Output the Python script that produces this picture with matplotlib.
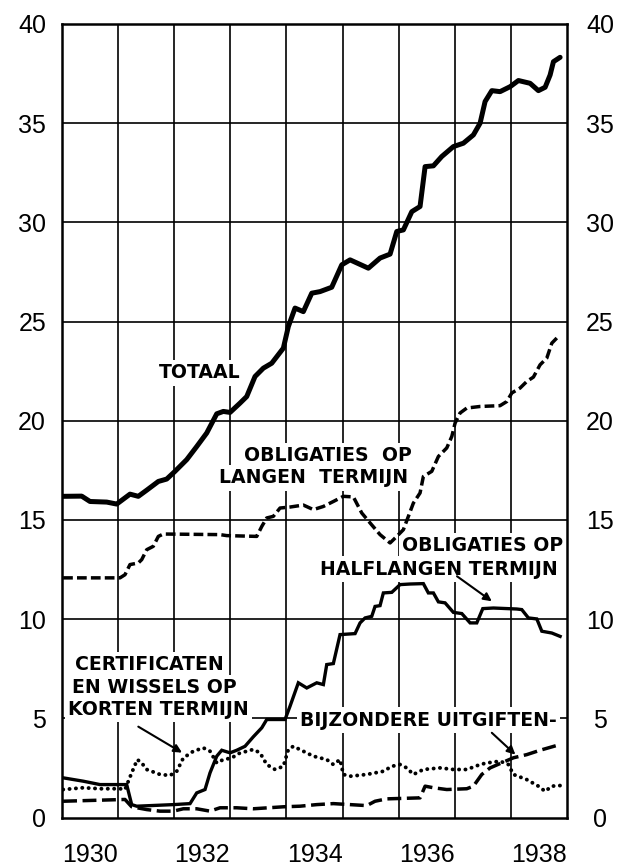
import matplotlib
matplotlib.use("Agg")
import matplotlib.pyplot as plt

plt.rcParams['lines.scale_dashes'] = False

# ---- data (years, billions) ----
totaal_x = [1930.02, 1930.351, 1930.499, 1930.797, 1930.975, 1931.212, 1931.360, 1931.510, 1931.717,
            1931.866, 1932.014, 1932.223, 1932.401, 1932.579, 1932.758, 1932.875, 1932.995, 1933.173,
            1933.292, 1933.440, 1933.588, 1933.738, 1933.945, 1934.034, 1934.153, 1934.301, 1934.451,
            1934.599, 1934.807, 1934.986, 1935.134, 1935.460, 1935.668, 1935.847, 1935.966, 1936.084,
            1936.234, 1936.381, 1936.471, 1936.619, 1936.768, 1936.975, 1937.153, 1937.332, 1937.451,
            1937.540, 1937.660, 1937.807, 1937.986, 1938.134, 1938.342, 1938.490, 1938.610, 1938.699,
            1938.758, 1938.877]
totaal_y = [16.19, 16.2, 15.93, 15.9, 15.8, 16.3, 16.19, 16.5, 16.94,
            17.06, 17.45, 18.04, 18.7, 19.38, 20.35, 20.47, 20.42, 20.89,
            21.22, 22.23, 22.65, 22.9, 23.66, 24.75, 25.68, 25.5, 26.43,
            26.51, 26.73, 27.86, 28.11, 27.69, 28.2, 28.4, 29.54, 29.62,
            30.54, 30.8, 32.81, 32.85, 33.32, 33.82, 33.99, 34.41, 35.0,
            36.09, 36.64, 36.59, 36.84, 37.15, 37.01, 36.64, 36.81, 37.43,
            38.1, 38.32]

langen_x = [1930.02, 1931.034, 1931.123, 1931.212, 1931.360, 1931.421, 1931.510, 1931.627, 1931.717,
            1931.806, 1932.816, 1932.936, 1933.471, 1933.560, 1933.649, 1933.766, 1933.886, 1934.064,
            1934.301, 1934.480, 1934.658, 1934.836, 1935.014, 1935.193, 1935.342, 1935.490, 1935.668,
            1935.847, 1935.966, 1936.084, 1936.173, 1936.262, 1936.381, 1936.440, 1936.590, 1936.708,
            1936.857, 1936.947, 1937.005, 1937.094, 1937.214, 1937.451, 1937.807, 1937.927, 1938.016,
            1938.164, 1938.283, 1938.401, 1938.520, 1938.640, 1938.729, 1938.818]
langen_y = [12.08, 12.08, 12.24, 12.75, 12.83, 13.0, 13.5, 13.67, 14.17,
            14.29, 14.26, 14.21, 14.17, 14.67, 15.1, 15.18, 15.6, 15.65,
            15.75, 15.52, 15.68, 15.93, 16.19, 16.16, 15.35, 14.85, 14.26,
            13.84, 14.17, 14.51, 15.18, 15.85, 16.36, 17.19, 17.45, 18.2,
            18.63, 19.21, 19.88, 20.39, 20.64, 20.72, 20.76, 20.97, 21.4,
            21.65, 21.98, 22.2, 22.82, 23.16, 23.91, 24.17]

half_x = [1930.02, 1930.380, 1930.677, 1931.153, 1931.242, 1931.332, 1931.984, 1932.282, 1932.401,
          1932.549, 1932.638, 1932.758, 1932.847, 1932.995, 1933.114, 1933.262, 1933.410, 1933.560,
          1933.649, 1933.975, 1934.064, 1934.212, 1934.362, 1934.540, 1934.658, 1934.718, 1934.836,
          1934.955, 1935.223, 1935.312, 1935.401, 1935.520, 1935.579, 1935.668, 1935.727, 1935.877,
          1936.025, 1936.203, 1936.440, 1936.529, 1936.619, 1936.708, 1936.827, 1936.975, 1937.125,
          1937.273, 1937.392, 1937.499, 1937.688, 1938.105, 1938.194, 1938.312, 1938.462, 1938.551,
          1938.729, 1938.877]
half_y = [2.0, 1.83, 1.66, 1.66, 0.65, 0.57, 0.65, 0.7, 1.24,
          1.41, 2.25, 3.09, 3.39, 3.26, 3.39, 3.59, 4.07, 4.52,
          4.94, 4.94, 5.61, 6.79, 6.53, 6.79, 6.7, 7.71, 7.76,
          9.22, 9.27, 9.81, 10.06, 10.14, 10.64, 10.68, 11.32, 11.35,
          11.74, 11.77, 11.79, 11.32, 11.32, 10.87, 10.82, 10.34, 10.28,
          9.81, 9.81, 10.53, 10.56, 10.51, 10.48, 10.06, 10.01, 9.39,
          9.3, 9.13]

cert_x = [1930.02, 1930.380, 1930.677, 1931.034, 1931.123, 1931.242, 1931.342, 1931.421, 1931.510,
          1931.747, 1931.925, 1932.045, 1932.162, 1932.340, 1932.519, 1932.638, 1932.758, 1932.875,
          1933.025, 1933.143, 1933.292, 1933.410, 1933.529, 1933.649, 1933.797, 1933.945, 1934.034,
          1934.123, 1934.301, 1934.480, 1934.718, 1934.836, 1934.955, 1935.014, 1935.134, 1935.431,
          1935.727, 1935.877, 1936.025, 1936.144, 1936.262, 1936.440, 1936.738, 1936.975, 1937.214,
          1937.451, 1937.570, 1937.807, 1937.955, 1938.045, 1938.283, 1938.490, 1938.610, 1938.729,
          1938.877]
cert_y = [1.41, 1.5, 1.45, 1.45, 1.41, 2.25, 2.92, 2.75, 2.42,
          2.17, 2.12, 2.33, 3.0, 3.34, 3.51, 3.34, 2.75, 2.92,
          3.0, 3.22, 3.34, 3.43, 3.26, 2.67, 2.42, 2.58, 3.43,
          3.59, 3.34, 3.09, 2.92, 2.67, 2.92, 2.17, 2.08, 2.17,
          2.33, 2.58, 2.67, 2.5, 2.17, 2.42, 2.5, 2.42, 2.42,
          2.67, 2.75, 2.84, 2.67, 2.17, 1.91, 1.58, 1.32, 1.58,
          1.61]

bijz_x = [1930.02, 1931.123, 1931.242, 1931.510, 1931.747, 1931.984, 1932.162, 1932.401, 1932.638,
          1932.816, 1933.114, 1933.410, 1933.945, 1934.242, 1934.540, 1934.836, 1935.431, 1935.579,
          1935.788, 1936.381, 1936.471, 1936.619, 1936.857, 1937.214, 1937.332, 1937.481, 1937.629,
          1937.807, 1938.045, 1938.283, 1938.520, 1938.877]
bijz_y = [0.82, 0.91, 0.54, 0.4, 0.32, 0.32, 0.44, 0.44, 0.32,
          0.49, 0.49, 0.44, 0.54, 0.57, 0.65, 0.7, 0.6, 0.82,
          0.94, 0.99, 1.58, 1.5, 1.41, 1.45, 1.58, 2.17, 2.5,
          2.72, 3.01, 3.17, 3.39, 3.68]

year_labels = ['1930', '1932', '1934', '1936', '1938']
year_label_pos = [1930.5, 1932.5, 1934.5, 1936.5, 1938.5]
grid_years = [1931, 1932, 1933, 1934, 1935, 1936, 1937, 1938]
y_ticks = [0, 5, 10, 15, 20, 25, 30, 35, 40]

# ---- figure ----
fig = plt.figure(figsize=(6.18, 8.66), dpi=100)
ax = fig.add_axes([0.1003, 0.056, 0.8172, 0.9163])
ax.set_xlim(1930, 1939)
ax.set_ylim(0, 40)

for yr in grid_years:
    ax.axvline(yr, color='black', lw=1.2, zorder=0.5)
for yv in y_ticks[1:-1]:
    ax.axhline(yv, color='black', lw=1.2, zorder=0.5)

for s in ax.spines.values():
    s.set_linewidth(1.8)

ax.plot(totaal_x, totaal_y, color='black', lw=3.6, solid_capstyle='round', solid_joinstyle='round', zorder=3)
ax.plot(half_x, half_y, color='black', lw=2.4, solid_joinstyle='miter', zorder=3)
ln, = ax.plot(langen_x, langen_y, color='black', lw=2.5, zorder=3)
ln.set_dashes((7, 3))
lb, = ax.plot(bijz_x, bijz_y, color='black', lw=2.5, zorder=3)
lb.set_dashes((10, 4))
lc, = ax.plot(cert_x, cert_y, color='black', lw=2.8, dash_capstyle='round', zorder=3)
lc.set_dashes((0.1, 4.5))

# ticks
label_font = dict(family='Liberation Sans', size=18)
ax.set_yticks(y_ticks)
ax.set_yticklabels([str(v) for v in y_ticks], fontdict=label_font)
ax.tick_params(axis='y', length=0, pad=11.5)

ax.set_xticks(year_label_pos)
ax.set_xticklabels(year_labels, fontdict=label_font)
ax.tick_params(axis='x', length=0, pad=18)

ax2 = ax.twinx()
ax2.set_ylim(0, 40)
ax2.set_yticks(y_ticks)
ax2.set_yticklabels([str(v) for v in y_ticks], fontdict=label_font)
ax2.tick_params(axis='y', length=0, pad=23.8)
for lbl in ax2.get_yticklabels():
    lbl.set_horizontalalignment('center')
for s in ax2.spines.values():
    s.set_visible(False)

# annotations
tf = dict(family='DejaVu Sans', weight='bold', size=13.6, color='black')
bb = dict(facecolor='white', edgecolor='none', pad=2.5)

ax.text(1932.46, 22.42, 'TOTAAL', ha='center', va='center', bbox=bb, zorder=2, **tf)
ax.text(1936.24, 18.24, 'OBLIGATIES  OP', ha='right', va='center', bbox=bb, zorder=2, **tf)
ax.text(1936.17, 17.13, 'LANGEN  TERMIJN', ha='right', va='center', bbox=bb, zorder=2, **tf)
ax.text(1938.93, 13.7, 'OBLIGATIES OP', ha='right', va='center', bbox=bb, zorder=2, **tf)
ax.text(1938.84, 12.52, 'HALFLANGEN TERMIJN', ha='right', va='center', bbox=bb, zorder=2, **tf)
ax.text(1930.23, 7.71, 'CERTIFICATEN', ha='left', va='center', bbox=bb, zorder=2, **tf)
ax.text(1930.18, 6.55, 'EN WISSELS OP', ha='left', va='center', bbox=bb, zorder=2, **tf)
ax.text(1930.11, 5.44, 'KORTEN TERMIJN', ha='left', va='center', bbox=bb, zorder=2, **tf)
ax.text(1934.24, 4.91, 'BIJZONDERE UITGIFTEN-', ha='left', va='center', bbox=bb, zorder=2, **tf)

arrow = dict(arrowstyle='-|>', color='black', lw=1.5, mutation_scale=12, shrinkA=0, shrinkB=0)
ax.annotate('', xy=(1932.14, 3.27), xytext=(1931.36, 4.58), arrowprops=arrow, zorder=4)
ax.annotate('', xy=(1937.66, 10.9), xytext=(1937.04, 12.16), arrowprops=arrow, zorder=4)
ax.annotate('', xy=(1938.08, 3.17), xytext=(1937.66, 4.27), arrowprops=arrow, zorder=4)

fig.savefig('out.png', dpi=100)
